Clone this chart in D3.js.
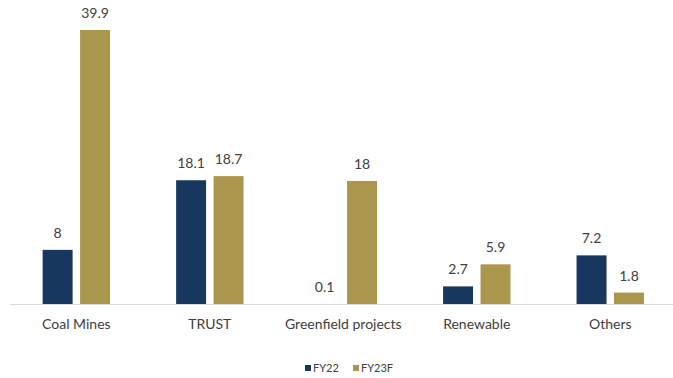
<!DOCTYPE html>
<html>
<head>
<meta charset="utf-8">
<script src="https://cdn.jsdelivr.net/npm/d3@7"></script>
<style>
  html, body { margin: 0; padding: 0; background: #fff; }
  svg { display: block; font-family: "Lato", "Open Sans", sans-serif; }
</style>
</head>
<body>
<svg id="chart" width="673" height="378"></svg>
<script>
const categories = ["Coal Mines", "TRUST", "Greenfield projects", "Renewable", "Others"];
const seriesNames = ["FY22", "FY23F"];
const fy22 = [8, 18.1, 0.1, 2.7, 7.2];
const fy23f = [39.9, 18.7, 18, 5.9, 1.8];
const colors = ["#17375e", "#ab964e"];

const svg = d3.select("#chart");
const baseY = 305;

const x = d3.scaleBand().domain(categories).range([9.6, 677]).paddingInner(0).paddingOuter(0);
const inner = d3.scaleBand().domain(seriesNames)
  .range([x.bandwidth() / 2 - 33.7, x.bandwidth() / 2 + 33.7])
  .paddingInner(0.2).paddingOuter(0);
const y = d3.scaleLinear().domain([0, 40]).range([baseY, baseY - 40 * 6.892]);

const rows = categories.map((c, i) => ({ cat: c, values: [fy22[i], fy23f[i]] }));

const groups = svg.selectAll("g.grp").data(rows).join("g")
  .attr("class", "grp")
  .attr("transform", d => `translate(${x(d.cat)},0)`);

groups.selectAll("rect").data(d => d.values.map((v, k) => ({ v, k })))
  .join("rect")
  .attr("x", d => inner(seriesNames[d.k]))
  .attr("width", inner.bandwidth())
  .attr("y", d => y(d.v))
  .attr("height", d => baseY - y(d.v))
  .attr("fill", d => colors[d.k]);

groups.selectAll("text.val").data(d => d.values.map((v, k) => ({ v, k })))
  .join("text")
  .attr("class", "val")
  .attr("x", d => inner(seriesNames[d.k]) + inner.bandwidth() / 2)
  .attr("y", d => y(d.v) - 12)
  .attr("text-anchor", "middle")
  .attr("font-size", 14)
  .attr("fill", "#404040")
  .text(d => d.v);

// category axis, drawn over the bar bottoms
const axis = svg.append("g").attr("transform", `translate(0,${baseY})`)
  .call(d3.axisBottom(x).tickSize(0).tickPadding(14));
axis.select(".domain").attr("stroke", "#d9d9d9").attr("d", "M10,-0.5H673");
axis.selectAll("text").attr("font-size", 14).attr("fill", "#404040")
  .attr("font-family", "Lato, 'Open Sans', sans-serif");

// legend
const legend = svg.append("g").attr("transform", "translate(305,368)");
const legendX = [0, 48];
seriesNames.forEach((name, k) => {
  const g = legend.append("g").attr("transform", `translate(${legendX[k]},0)`);
  g.append("rect").attr("x", 0).attr("y", -3).attr("width", 6).attr("height", 6).attr("fill", colors[k]);
  g.append("text").attr("x", 8).attr("y", 0).attr("dy", "0.35em")
    .attr("font-size", 11).attr("fill", "#404040").text(name);
});
</script>
</body>
</html>
